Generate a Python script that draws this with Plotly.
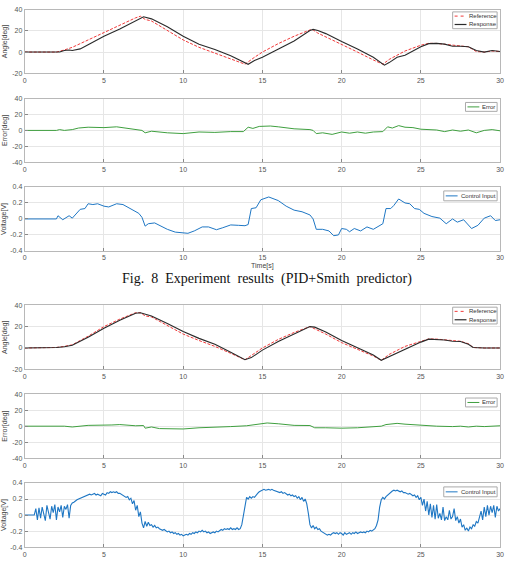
import plotly.graph_objects as go

# ---------------- DATA ----------------
# Group A (PID + Smith predictor)
refA_t = [0, 2.0, 2.5, 3.0, 3.5, 4, 5, 6, 7, 7.3, 7.6, 8, 9, 10, 11, 12, 13, 13.9, 14.5, 15, 16, 17, 18, 18.2,
          18.5, 19, 20, 21, 22, 22.6, 23, 24, 25, 25.5, 26, 26.5, 27, 27.5, 28, 28.5, 29, 29.5, 30]
refA_y = [0, 0, 2, 4.5, 8, 11.5, 19, 26, 32.5, 34, 31, 29.5, 20.5, 11.5, 4.5, -1, -6.5, -11.5, -5, 0, 8, 15, 21, 21,
          18, 14.5, 7, 0, -7.5, -11.5, -7, 1, 6.5, 8.3, 8.2, 7.5, 6.5, 6, 5, 0.5, 0, 1, 0.5]
resA_t = [0, 2.2, 2.5, 2.8, 3.0, 3.5, 4, 5, 6, 7, 7.5, 8, 9, 10, 11, 12, 13, 14.1, 14.5, 15, 16, 17, 18, 18.2,
          18.5, 19, 20, 21, 22, 22.7, 23, 23.5, 24, 25, 25.5, 26, 26.5, 27, 27.5, 28, 28.5, 29, 29.5, 30]
resA_y = [0, 0, 1.5, 2, 1.5, 3, 7, 15, 22, 30, 33.5, 31.5, 24, 15, 7.5, 2.5, -3.5, -11.6, -8, -5, 3, 10.5, 20.5, 21.5,
          20.5, 17.5, 10, 3, -5, -12.5, -10, -5, -3, 5, 8, 8.2, 7.5, 5.5, 5.5, 5, 1.5, 0, 1.5, 0.5]
errA_t = [0, 2, 2.2, 2.5, 3, 3.4, 4, 5, 5.8, 7, 7.4, 7.6, 8, 9, 10, 11, 12, 13, 13.8, 14.1, 14.4, 14.8, 15.5, 16,
          17, 18, 18.2, 18.4, 18.8, 19.4, 20, 20.5, 21, 21.5, 22, 22.6, 22.9, 23.2, 23.6, 24, 24.5, 25, 26, 26.5,
          27, 27.5, 28, 28.5, 29, 29.5, 30]
errA_y = [0, 0, 1, 0, 1, 3, 4, 3.5, 4.5, 1, 0, -3, -1, -3, -4, -2, -2.5, -1.5, -1.5, 4, 2.5, 5, 5.5, 4.5,
          2, 1, 0, -4, -3, -5, -2, -3.5, -2, -3.5, -2, -1.5, 4.5, 3, 6, 4, 3.5, 1.5, 0.5, -1.5,
          0.5, -1, 0.5, -3, 0, 1, -0.5]
ctlA_t = [0, 2.0, 2.1, 2.4, 2.8, 3.0, 3.5, 3.8, 4.0, 4.3, 4.6, 5.0, 5.3, 5.8, 6.2, 6.8, 7.2, 7.4, 7.6, 7.8, 8.2,
          8.6, 9.0, 9.5, 10.0, 10.3, 10.7, 11.2, 11.6, 12.1, 12.5, 13.0, 13.5, 13.9, 14.1, 14.3, 14.6, 14.9, 15.4,
          16.0, 16.5, 17.0, 17.5, 18.0, 18.2, 18.4, 18.8, 19.2, 19.5, 19.8, 20.0, 20.3, 20.5, 20.8, 21.2, 21.6,
          22.0, 22.4, 22.6, 22.8, 23.1, 23.3, 23.6, 24.0, 24.3, 24.6, 24.9, 25.2, 25.7, 26.2, 26.6, 27.0, 27.3,
          27.7, 28.2, 28.6, 29.0, 29.4, 29.7, 30.0]
ctlA_y = [0, 0, 0.04, -0.01, 0.04, 0.01, 0.12, 0.13, 0.19, 0.18, 0.19, 0.16, 0.15, 0.19, 0.18, 0.12, 0.07, 0.02,
          -0.09, -0.06, -0.05, -0.09, -0.13, -0.165, -0.175, -0.18, -0.15, -0.1, -0.1, -0.135, -0.11, -0.075,
          -0.08, -0.085, -0.07, 0.13, 0.14, 0.24, 0.275, 0.23, 0.16, 0.11, 0.09, 0.05, 0.0, -0.13, -0.13, -0.15,
          -0.21, -0.2, -0.12, -0.13, -0.16, -0.12, -0.15, -0.1, -0.13, -0.09, -0.06, 0.13, 0.13, 0.17, 0.25,
          0.2, 0.19, 0.13, 0.12, 0.07, 0.03, 0.01, -0.06, 0.0, -0.04, -0.01, -0.12, -0.08, 0.01, 0.04, -0.02, -0.01]

# Group B (PID)
refB_t = [0, 1.5, 2, 2.5, 3, 4, 5, 6, 7, 7.3, 7.6, 8, 9, 10, 11, 12, 13, 13.9, 14.3, 15, 16, 17, 18, 18.3, 19,
          20, 21, 22, 22.5, 23, 24, 25, 25.5, 26, 26.5, 27, 27.5, 28, 28.3, 29, 30]
refB_y = [0, 0, 0.5, 1.5, 3, 11, 20, 27, 33, 33, 30, 29, 21, 13, 7, 1.5, -5, -11, -7, 0, 8, 14.5, 20, 18, 13,
          5, -1, -7.5, -11.5, -6, 1.5, 6.5, 8.5, 8.3, 7.5, 6.5, 6.3, 4, 0.5, 0, 0]
resB_t = [0, 1.5, 2, 2.5, 3, 4, 5, 6, 7, 7.3, 7.8, 8, 9, 10, 11, 12, 13, 13.9, 14.3, 15, 16, 17, 18, 18.3, 19,
          20, 21, 22, 22.5, 23, 24, 25, 25.5, 26, 26.5, 27, 27.5, 28, 28.3, 29, 30]
resB_y = [0, 0, 0.5, 1.2, 2.5, 10, 18.5, 26, 32.5, 33, 31, 30, 23, 15.5, 9, 3.5, -4, -11, -9, -2, 6, 13, 20, 19.5,
          15, 7, 0.5, -6.5, -11.5, -8, -1, 5.5, 8.3, 8, 7.5, 6.3, 6, 3.5, 0.5, 0, 0]
errB_t = [0, 2.5, 3, 4, 5.5, 6, 7, 7.5, 7.6, 8, 8.5, 10, 11, 12, 13, 14, 14.5, 15.3, 16, 17, 18, 18.3, 19, 20,
          21, 22, 22.5, 22.8, 23.5, 24, 25, 26, 27, 27.5, 28, 28.5, 29, 30]
errB_y = [0, 0, -1, 1, 1.5, 2, 0.5, 0.8, -2.5, -1, -3, -3.5, -2, -1.5, -0.5, 0.5, 2, 4, 3, 1, 0.8, -2, -2, -2.5,
          -2, -1, 0, 2, 3.5, 2.5, 1, 0, -0.5, 0, -1, 0, -0.5, 0.5]
ctlB_y = [0, 0, 0, 0, 0, 0, 0,
          0.08, -0.06, 0.09, -0.04, 0.1, 0.02, -0.07, 0.12, 0.05, -0.05, 0.11, 0.03, 0.13, -0.06, 0.1, 0.04,
          0.12, -0.03, 0.11, 0.07, 0.13, -0.04,
          0.12, 0.15, 0.16, 0.18, 0.19, 0.2, 0.21, 0.22, 0.23, 0.24, 0.25, 0.25, 0.26, 0.25, 0.26, 0.27, 0.25,
          0.26, 0.25, 0.24, 0.27, 0.26, 0.25, 0.28, 0.27, 0.29, 0.28, 0.29, 0.28, 0.29, 0.27, 0.27, 0.26, 0.25,
          0.24, 0.22, 0.23, 0.19, 0.21, 0.14, 0.18, 0.06, 0.12, -0.02, 0.04, -0.1, -0.16, -0.08, -0.14, -0.09,
          -0.13, -0.12, -0.15, -0.13, -0.16, -0.15, -0.17, -0.18, -0.19, -0.18, -0.2, -0.21, -0.2, -0.22, -0.21,
          -0.23, -0.22, -0.24, -0.23, -0.25, -0.24, -0.26, -0.25, -0.24, -0.25, -0.23, -0.24, -0.22, -0.23,
          -0.21, -0.22, -0.2, -0.21, -0.19, -0.21, -0.2, -0.22, -0.21, -0.23, -0.22, -0.21, -0.22, -0.2, -0.21,
          -0.19, -0.18, -0.19, -0.17, -0.18, -0.17, -0.18, -0.16, -0.18, -0.17, -0.18, -0.16, -0.18, -0.17,
          -0.12, 0.0, 0.15, 0.22, 0.2, 0.23, 0.21, 0.23, 0.22, 0.25, 0.27, 0.29, 0.3, 0.31, 0.32, 0.31, 0.32,
          0.32, 0.31, 0.32, 0.31, 0.3, 0.3, 0.29, 0.28, 0.29, 0.27, 0.28, 0.26, 0.25, 0.26, 0.24, 0.25, 0.23,
          0.24, 0.21, 0.23, 0.19, 0.22, 0.17, 0.2, 0.14, 0.02, -0.12, -0.16, -0.13, -0.17, -0.15, -0.18, -0.17,
          -0.2, -0.21, -0.23, -0.24, -0.25, -0.24, -0.25, -0.23, -0.22, -0.23, -0.22, -0.24, -0.22, -0.23,
          -0.25, -0.22, -0.24, -0.23, -0.22, -0.24, -0.22, -0.23, -0.21, -0.23, -0.22, -0.21, -0.22, -0.21,
          -0.22, -0.2, -0.21, -0.19, -0.2, -0.18, -0.17, -0.13, -0.06, 0.1, 0.19, 0.22, 0.2, 0.23, 0.25, 0.27,
          0.29, 0.3, 0.31, 0.3, 0.31, 0.3, 0.29, 0.3, 0.28, 0.28, 0.27, 0.26, 0.27, 0.25, 0.24, 0.25, 0.22,
          0.24, 0.19, 0.22, 0.12, 0.2, 0.05, 0.17, 0.0, 0.14, -0.03, 0.12, -0.05, 0.13, -0.04, 0.02, -0.06,
          0.1, -0.07, -0.02, -0.06, 0.06, -0.05, -0.02, 0.08, -0.07, -0.02, -0.1, -0.05, -0.15, -0.12, -0.19,
          -0.16, -0.2, -0.15, -0.17, -0.12, -0.14, -0.08, -0.1, -0.03, 0.05, -0.06, 0.1, -0.02, 0.12, 0.0, 0.11,
          0.03, 0.12, -0.03, 0.11, 0.05, 0.08]
ctlB_t = [i / 10 for i in range(len(ctlB_y))]

x_ticks = [0, 5, 10, 15, 20, 25, 30]
ang_ticks = [-20, 0, 20, 40]
ang_text = ["-20", "0", "20", "40"]
err_ticks = [-40, -20, 0, 20, 40]
err_text = ["-40", "-20", "0", "20", "40"]
volt_ticks = [-0.4, -0.2, 0, 0.2, 0.4]
volt_text = ["-0.4", "-0.2", "0", "0.2", "0.4"]
caption = "Fig.  8  Experiment  results  (PID+Smith  predictor)"

# ---------------- LAYOUT ----------------
W, H = 511, 562
X0, X1 = 23, 504
panels = [(6, 70), (95.7, 160.3), (185.3, 250), (305, 370), (395, 460), (485, 550)]

RED = "#f03a3a"
BLACK = "#2a2a2a"
GREEN = "#3f9f3f"
BLUE = "#1f77c4"
RED_DASH = "3px,1.5px"

fig = go.Figure()

def add(i, x, y, name, color, dash="solid", width=1.0):
    fig.add_trace(go.Scatter(
        x=x, y=y, name=name, mode="lines", showlegend=False,
        line=dict(color=color, dash=dash, width=width),
        xaxis="x" if i == 1 else f"x{i}",
        yaxis="y" if i == 1 else f"y{i}",
    ))

add(1, refA_t, refA_y, "Reference", RED, RED_DASH, 1.0)
add(1, resA_t, resA_y, "Response", BLACK, "solid", 1.1)
add(2, errA_t, errA_y, "Error", GREEN)
add(3, ctlA_t, ctlA_y, "Control Input", BLUE)
add(4, refB_t, refB_y, "Reference", RED, RED_DASH, 1.0)
add(4, resB_t, resB_y, "Response", BLACK, "solid", 1.1)
add(5, errB_t, errB_y, "Error", GREEN)
add(6, ctlB_t, ctlB_y, "Control Input", BLUE, "solid", 1.1)

tickfont = dict(family="Liberation Sans", size=7, color="#555555")
ytitles = ["Angle[deg]", "Error[deg]", "Voltage[V]"] * 2
yticks = [(ang_ticks, ang_text, [-20, 40]), (err_ticks, err_text, [-40, 40]), (volt_ticks, volt_text, [-0.4, 0.4])] * 2

layout = dict(
    width=W, height=H, margin=dict(l=0, r=0, t=0, b=0),
    paper_bgcolor="white", plot_bgcolor="white", showlegend=False,
    font=dict(family="Liberation Sans", color="#444444"),
)
for i, (top, bot) in enumerate(panels, start=1):
    xs = "xaxis" if i == 1 else f"xaxis{i}"
    ys = "yaxis" if i == 1 else f"yaxis{i}"
    yref = "y" if i == 1 else f"y{i}"
    xref = "x" if i == 1 else f"x{i}"
    dom_y = [1 - bot / H, 1 - top / H]
    tv, tt, rng = yticks[i - 1]
    layout[xs] = dict(
        domain=[X0 / W, X1 / W], anchor=yref, range=[0, 30], tickvals=x_ticks,
        showgrid=True, gridcolor="#e6e6e6", gridwidth=1, zeroline=False,
        showline=True, mirror=True, linecolor="#b8b8b8", linewidth=1,
        ticks="inside", ticklen=3, tickcolor="#888888", tickfont=tickfont,
    )
    if i == 3:
        layout[xs]["title"] = dict(text="Time[s]", font=dict(size=7, color="#444444"), standoff=2)
    layout[ys] = dict(
        domain=dom_y, anchor=xref, range=rng, tickvals=tv, ticktext=tt,
        showgrid=True, gridcolor="#e6e6e6", gridwidth=1, zeroline=False,
        showline=True, mirror=True, linecolor="#b8b8b8", linewidth=1,
        ticks="inside", ticklen=3, tickcolor="#888888", tickfont=tickfont,
        title=dict(text=ytitles[i - 1], font=dict(size=7, color="#444444"), standoff=3),
    )

fig.update_layout(**layout)

# ---- compact legends (MATLAB style) ----
def px(x):
    return x / W

def py(y):
    return 1 - y / H

def legend_box(top, left, right, height, entries):
    fig.add_shape(type="rect", xref="paper", yref="paper",
                  x0=px(left), x1=px(right), y0=py(top + 2), y1=py(top + 2 + height),
                  line=dict(color="#aaaaaa", width=1), fillcolor="white", layer="above")
    n = len(entries)
    for k, (label, color, dash, w) in enumerate(entries):
        yc = top + 2 + height * (k + 0.5) / n
        fig.add_shape(type="line", xref="paper", yref="paper",
                      x0=px(left + 2), x1=px(left + 14), y0=py(yc), y1=py(yc),
                      line=dict(color=color, dash=dash, width=w), layer="above")
        fig.add_annotation(text=label, xref="paper", yref="paper", x=px(left + 15), y=py(yc),
                           xanchor="left", yanchor="middle", showarrow=False,
                           font=dict(family="Liberation Sans", size=6, color="#333333"))

for g in (0, 3):
    legend_box(panels[g][0], 456, 501, 17,
               [("Reference", RED, "dot", 1.0), ("Response", BLACK, "solid", 1.2)])
    legend_box(panels[g + 1][0] + 2, 469, 501, 9, [("Error", GREEN, "solid", 1.0)])
    legend_box(panels[g + 2][0] + 2, 447, 501, 10, [("Control Input", BLUE, "solid", 1.0)])

fig.add_annotation(
    text=caption, xref="paper", yref="paper", x=268 / W, y=1 - 278 / H,
    xanchor="center", yanchor="middle", showarrow=False,
    font=dict(family="Liberation Serif", size=14, color="#111111"),
)

fig.write_html("out.html")
